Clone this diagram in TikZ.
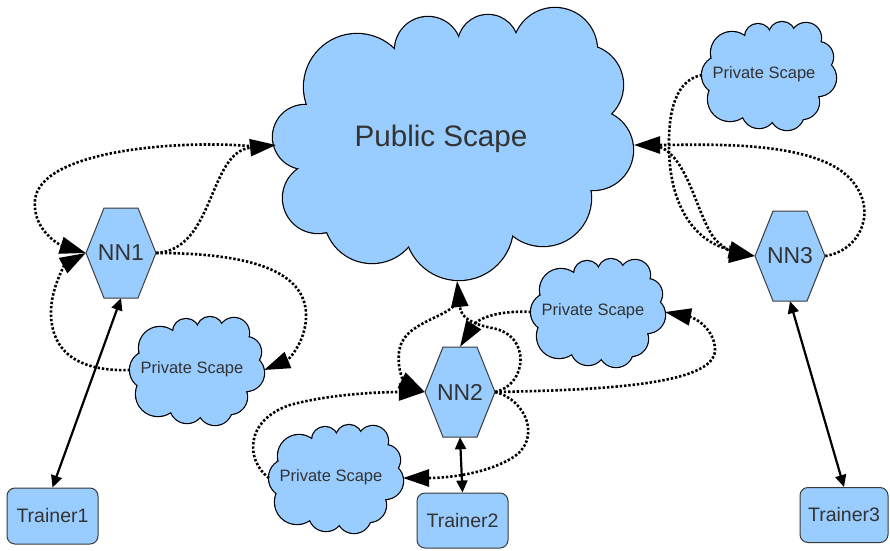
\documentclass[tikz,border=0pt]{standalone}
\usepackage{fontspec}
\setmainfont{Liberation Sans}
\usetikzlibrary{arrows.meta,calc}
\definecolor{scapeblue}{HTML}{99CCFF}
\definecolor{inkgray}{HTML}{333333}
\definecolor{edgegray}{HTML}{3A3A3A}

% puffs of a private scape cloud, relative to its centre: x/y/radius
\newcommand\privpuffs{-36/-23/21, -10/-39/13, 14/-41/13, 38/-38/15, 50/-19/15, 50/2/18, 34/26/17, 19/37/17, -9/35/17, -38/23/22, -47/-1/19}
\newcommand\privcore{(-36,-23) (-10,-39) (14,-41) (38,-38) (50,-19) (50,2) (34,26) (19,37) (-9,35) (-38,23) (-47,-1)}
% puffs of the public scape cloud, absolute
\newcommand\pubpuffs{357/87/53, 305/137/32, 318/198/35, 372/215/48, 459/226/54, 543/198/48, 593/150/40, 583/85/40, 555/50/42, 488/45/30, 428/50/33}
\newcommand\pubcore{(357,87) (305,137) (318,198) (372,215) (459,226) (543,198) (593,150) (583,85) (555,50) (488,45) (428,50)}

% cloud body: black rim drawn wide, then blue fill over it
\newcommand\cloudbody[2]{%
  \foreach \cx/\cy/\r in #1 {\draw[cloudedge] (\cx,\cy) circle (\r);}
  \fill[scapeblue] plot coordinates {#2} -- cycle;
  \foreach \cx/\cy/\r in #1 {\fill[scapeblue] (\cx,\cy) circle (\r);}
}

\newcommand\privatescape[3]{%
  \begin{scope}[shift={(#2,#3)}]
    \cloudbody{\privpuffs}{\privcore}
  \end{scope}
  \node[privlabel] (#1) at (#2-4,#3-2) {Private Scape};
  \coordinate (#1-w) at (#2-66,#3-1);
  \coordinate (#1-e) at (#2+68,#3-1);
}

\newcommand\hexagonnode[4]{%
  \draw[hexline] (#2-35,#3) -- (#2-17,#3-45) -- (#2+17,#3-45) -- (#2+35,#3)
     -- (#2+17,#3+45) -- (#2-17,#3+45) -- cycle;
  \node[hexbox] (#1) at (#2,#3) {#4};
}

\begin{document}
\begin{tikzpicture}[x=1pt,y=-1pt,
  cloudedge/.style={draw=black,line width=2.4pt},
  hexline/.style={draw=edgegray,fill=scapeblue,line width=1pt},
  hexbox/.style={rectangle,minimum width=70pt,minimum height=90pt,inner sep=0pt,
    font=\fontsize{23}{26}\selectfont,text=inkgray},
  trainerbox/.style={rectangle,rounded corners=8pt,draw=edgegray,fill=scapeblue,
    line width=1pt,minimum width=90pt,minimum height=55pt,inner sep=0pt,
    font=\fontsize{19.5}{22}\selectfont,text=inkgray},
  privlabel/.style={inner sep=0pt,font=\fontsize{16.5}{19}\selectfont,text=inkgray},
  publabel/.style={inner sep=0pt,font=\fontsize{29.6}{33}\selectfont,text=inkgray},
  flow/.style={line width=2.6pt,dash pattern=on 2.4pt off 1.9pt,
    -{Triangle[length=26pt,width=17pt]}},
  link/.style={line width=2.2pt,
    {Triangle[length=12pt,width=11pt]}-{Triangle[length=12pt,width=11pt]}},
]
\fill[white] (0,0) rectangle (890,550);
\useasboundingbox (0,0) rectangle (890,550);

% public scape
\cloudbody{\pubpuffs}{\pubcore}
\node[publabel] (pub) at (441,139) {Public Scape};
\coordinate (pub-w) at (276,145);
\coordinate (pub-w2) at (249,146);
\coordinate (pub-e) at (634,145);
\coordinate (pub-e2) at (660,147);
\coordinate (pub-s) at (457,281);
\coordinate (pub-s2) at (456,303);

% private scapes
\privatescape{priv1}{196}{371}
\privatescape{priv2a}{597}{313}
\privatescape{priv2b}{335}{479}
\privatescape{priv3}{768}{76}

% neural nets
\hexagonnode{NN1}{121}{253}{NN1}
\hexagonnode{NN2}{460}{392}{NN2}
\hexagonnode{NN3}{790}{256}{NN3}

% trainers
\node[trainerbox,minimum width=91pt,minimum height=56pt] (T1) at (52.5,516) {Trainer1};
\node[trainerbox,minimum width=91pt] (T2) at (462.5,520.5) {Trainer2};
\node[trainerbox,minimum width=88pt] (T3) at (844,515) {Trainer3};

% trainer links
\draw[link] (NN1.south) -- (T1.north);
\draw[link] (NN2.south) -- (T2.north);
\draw[link] (NN3.south) -- (T3.north);

% NN1 flows
\draw[flow] (NN1.east) .. controls (215,250) and (208,152) .. (pub-w);
\draw[flow] (pub-w2) .. controls (180,140) and (40,150) .. (35,200)
  .. controls (32,230) and (60,245) .. (NN1.west);
\draw[flow] (NN1.east) .. controls (260,253) and (308,275) .. (306,318)
  .. controls (305,343) and (288,360) .. (priv1-e);
\draw[flow] (priv1-w) .. controls (70,372) and (50,345) .. (51,310)
  .. controls (52,285) and (66,264) .. (NN1.west);

% NN2 flows
\draw[flow] (NN2.east) .. controls (527,385) and (532,335) .. (492,328)
  .. controls (472,324) and (461,318) .. (pub-s);
\draw[flow] (pub-s2) .. controls (448,318) and (402,322) .. (399,352)
  .. controls (397,372) and (405,382) .. (NN2.west);
\draw[flow] (priv2a-w) .. controls (500,310) and (478,318) .. (NN2.north);
\draw[flow] (NN2.east) .. controls (600,390) and (715,385) .. (715,350)
  .. controls (715,330) and (696,318) .. (priv2a-e);
\draw[flow] (NN2.east) .. controls (527,400) and (542,440) .. (512,458)
  .. controls (482,476) and (440,478) .. (priv2b-e);
\draw[flow] (priv2b-w) .. controls (245,460) and (245,420) .. (290,405)
  .. controls (330,394) and (380,392) .. (NN2.west);

% NN3 flows
\draw[flow] (NN3.east) .. controls (865,250) and (882,200) .. (840,170)
  .. controls (795,140) and (700,145) .. (pub-e);
\draw[flow] (pub-e2) .. controls (688,158) and (697,215) .. (714,238)
  .. controls (724,250) and (740,255) .. (NN3.west);
\draw[flow] (priv3-w) .. controls (676,80) and (668,110) .. (669,150)
  .. controls (670,200) and (690,240) .. (NN3.west);
\end{tikzpicture}
\end{document}
